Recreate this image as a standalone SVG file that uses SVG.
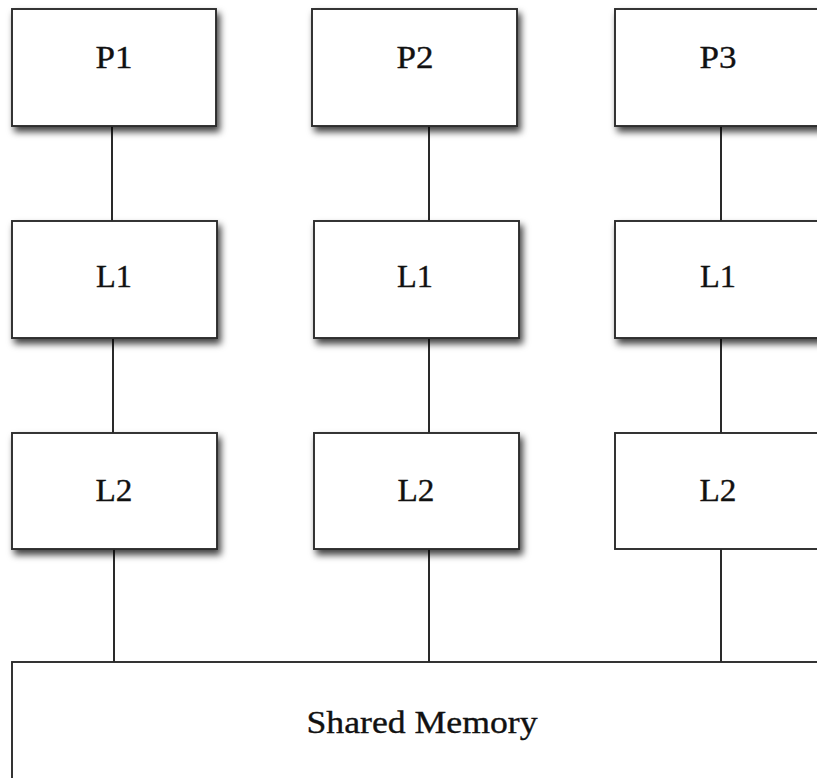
<svg xmlns="http://www.w3.org/2000/svg" width="817" height="778" viewBox="0 0 817 778">
<defs>
<filter id="sh" x="-10%" y="-10%" width="130%" height="140%">
<feDropShadow dx="3" dy="5" stdDeviation="3.5" flood-color="#000" flood-opacity="0.75"/>
</filter>
<style>
.box{fill:#fff;stroke:#2a2a2a;stroke-width:1.9}
.lbl{font-family:"Liberation Serif","Times New Roman",serif;font-size:31px;fill:#111;stroke:#111;stroke-width:0.35;text-anchor:middle}
.con{stroke:#2a2a2a;stroke-width:2;fill:none}
</style>
</defs>
<rect width="817" height="778" fill="#fff"/>
<g id="connectors">
<line class="con" x1="112" y1="126" x2="112" y2="221"/>
<line class="con" x1="113" y1="338" x2="113" y2="433"/>
<line class="con" x1="114" y1="549" x2="114" y2="664"/>
<line class="con" x1="429" y1="126" x2="429" y2="221"/>
<line class="con" x1="429" y1="338" x2="429" y2="433"/>
<line class="con" x1="429" y1="549" x2="429" y2="662"/>
<line class="con" x1="721" y1="126" x2="721" y2="221"/>
<line class="con" x1="721" y1="338" x2="721" y2="433"/>
<line class="con" x1="721" y1="549" x2="721" y2="662"/>
</g>
<g id="mem">
<rect class="box" x="12" y="662" width="830" height="140"/>
<text class="lbl" x="422" y="733" textLength="231" lengthAdjust="spacingAndGlyphs">Shared Memory</text>
</g>
<g id="p1"><rect class="box" filter="url(#sh)" x="12" y="9" width="204" height="117"/><text class="lbl" x="114" y="68" textLength="37" lengthAdjust="spacingAndGlyphs">P1</text></g>
<g id="p2"><rect class="box" filter="url(#sh)" x="312" y="9" width="205" height="117"/><text class="lbl" x="415" y="68" textLength="37" lengthAdjust="spacingAndGlyphs">P2</text></g>
<g id="p3"><rect class="box" filter="url(#sh)" x="615" y="9" width="230" height="117"/><text class="lbl" x="718" y="68" textLength="37" lengthAdjust="spacingAndGlyphs">P3</text></g>
<g id="l1a"><rect class="box" filter="url(#sh)" x="12" y="221" width="205" height="117"/><text class="lbl" x="114" y="287" textLength="36" lengthAdjust="spacingAndGlyphs">L1</text></g>
<g id="l1b"><rect class="box" filter="url(#sh)" x="314" y="221" width="205" height="117"/><text class="lbl" x="415" y="287" textLength="36" lengthAdjust="spacingAndGlyphs">L1</text></g>
<g id="l1c"><rect class="box" filter="url(#sh)" x="615" y="221" width="230" height="117"/><text class="lbl" x="718" y="287" textLength="36" lengthAdjust="spacingAndGlyphs">L1</text></g>
<g id="l2a"><rect class="box" filter="url(#sh)" x="12" y="433" width="205" height="116"/><text class="lbl" x="114" y="501" textLength="37" lengthAdjust="spacingAndGlyphs">L2</text></g>
<g id="l2b"><rect class="box" filter="url(#sh)" x="314" y="433" width="205" height="116"/><text class="lbl" x="416" y="501" textLength="37" lengthAdjust="spacingAndGlyphs">L2</text></g>
<g id="l2c"><rect class="box" x="615" y="433" width="230" height="116"/><text class="lbl" x="718" y="501" textLength="37" lengthAdjust="spacingAndGlyphs">L2</text></g>
</svg>
